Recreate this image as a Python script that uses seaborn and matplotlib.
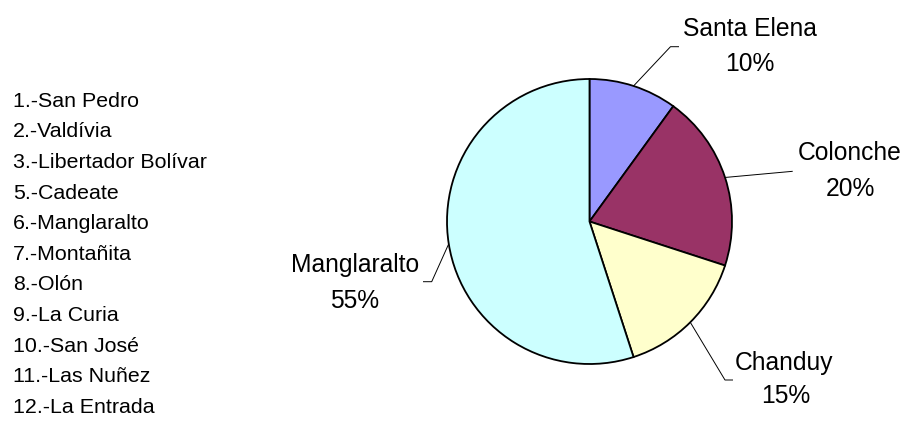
import matplotlib
matplotlib.use("Agg")
import matplotlib.pyplot as plt
import seaborn as sns

sns.set_theme(style="white")
plt.rcParams["font.family"] = ["Liberation Sans", "DejaVu Sans"]

# Share of each parish
parishes = ["Santa Elena", "Colonche", "Chanduy", "Manglaralto"]
shares = [10, 20, 15, 55]
colors = ["#9999FF", "#993366", "#FFFFCC", "#CCFFFF"]

# Communities listed at the left
communities = [
    "1.-San Pedro", "2.-Valdívia", "3.-Libertador Bolívar", "5.-Cadeate",
    "6.-Manglaralto", "7.-Montañita", "8.-Olón", "9.-La Curia",
    "10.-San José", "11.-Las Nuñez", "12.-La Entrada",
]

W, H = 905, 426
fig = plt.figure(figsize=(W / 100, H / 100), dpi=100)
ax = fig.add_axes([0, 0, 1, 1])
ax.set_xlim(0, W)
ax.set_ylim(0, H)
ax.set_axis_off()

cx, cy, r = 589.5, H - 221.5, 142.5
wedges, _ = ax.pie(
    shares, colors=colors, startangle=90, counterclock=False,
    center=(cx, cy), radius=r, frame=True,
    wedgeprops=dict(edgecolor="black", linewidth=1.3),
)
ax.set_xlim(0, W)
ax.set_ylim(0, H)
ax.set_axis_off()

import numpy as np

# Leader elbows and label anchors (pixel space, y downward)
layout = {
    "Santa Elena": dict(path=[(670.5, 46.7), (679, 46.7)], name=(750, 36), pct=(750, 71)),
    "Colonche": dict(path=[(792.7, 171.3)], name=(850, 160), pct=(850, 195.7)),
    "Chanduy": dict(path=[(725, 380), (733, 380)], name=(784, 370), pct=(786, 403)),
    "Manglaralto": dict(path=[(431.7, 281.7), (423, 281.7)], name=(355, 271.7), pct=(355, 308)),
}

for w, name, val in zip(wedges, parishes, shares):
    mid = np.deg2rad((w.theta1 + w.theta2) / 2)
    x0 = cx + r * np.cos(mid)
    y0 = cy + r * np.sin(mid)
    lay = layout[name]
    xs = [x0] + [p[0] for p in lay["path"]]
    ys = [y0] + [H - p[1] for p in lay["path"]]
    ax.plot(xs, ys, color="black", lw=0.7, solid_capstyle="butt")
    ax.text(lay["name"][0], H - lay["name"][1], name, ha="center", va="baseline",
            fontsize=17.7, color="black")
    ax.text(lay["pct"][0], H - lay["pct"][1], f"{val}%", ha="center", va="baseline",
            fontsize=17.7, color="black")

for i, c in enumerate(communities):
    ax.text(13.3, H - (106.7 + 30.63 * i), c, ha="left", va="baseline",
            fontsize=15.4, color="black")

fig.savefig("out.png", dpi=100, facecolor="white")
